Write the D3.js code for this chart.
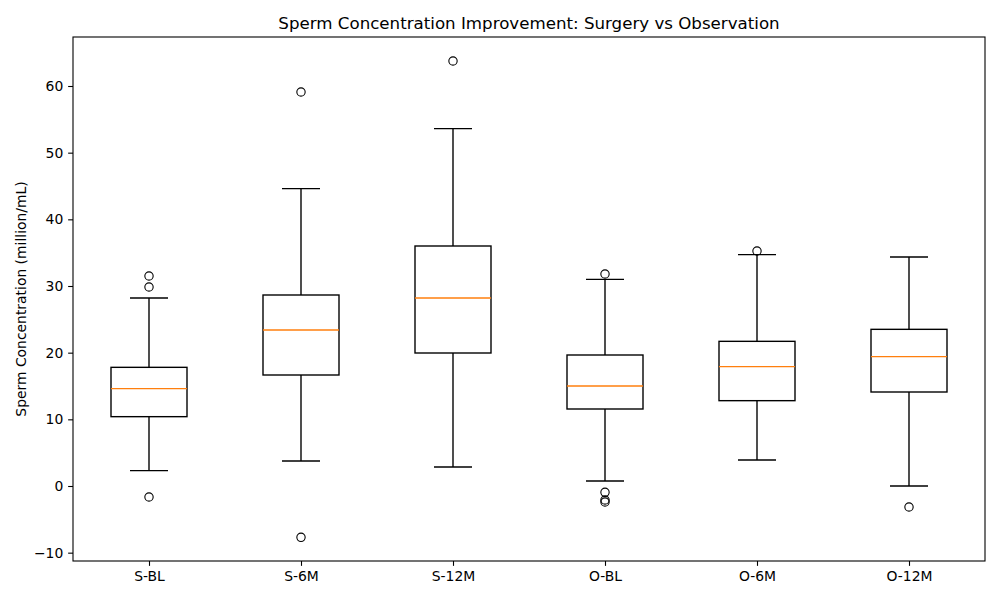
<!DOCTYPE html>
<html><head><meta charset="utf-8">
<script src="https://cdn.jsdelivr.net/npm/d3@7"></script>
<style>body{margin:0;background:#fff;} svg{display:block;font-family:"DejaVu Sans",sans-serif;}</style>
</head><body>
<svg id="chart" width="1000" height="600"></svg>
<script>
const categories = ["S-BL","S-6M","S-12M","O-BL","O-6M","O-12M"];
const whiskerLow = [2.3, 3.75, 2.85, 0.75, 3.9, 0.0];
const q1 = [10.4, 16.65, 19.95, 11.55, 12.8, 14.1];
const median = [14.6, 23.4, 28.2, 15.0, 17.9, 19.4];
const q3 = [17.8, 28.65, 36.0, 19.65, 21.7, 23.5];
const whiskerHigh = [28.2, 44.6, 53.6, 31.0, 34.7, 34.35];
const outliers = [
  [31.5, 29.85, -1.65],
  [59.1, -7.7],
  [63.75],
  [31.8, -0.95, -2.1, -2.4],
  [35.25],
  [-3.15]
];
const yTicks = [-10, 0, 10, 20, 30, 40, 50, 60];

const svg = d3.select("#chart");
const L = 73, R = 985, T = 37, B = 561;
const x = d3.scaleLinear().domain([0.5, 6.5]).range([L, R]);
const y = d3.scaleLinear().domain([-11.25, 67.35]).range([B, T]);
const step = x(2) - x(1);
const boxW = step * 0.5, capW = boxW * 0.5;
const lw = 1.39;

const g = svg.append("g");
categories.forEach((c, i) => {
  const cx = x(i + 1);
  const gg = g.append("g");
  // whiskers
  gg.append("line").attr("x1", cx).attr("x2", cx).attr("y1", y(q3[i])).attr("y2", y(whiskerHigh[i])).attr("stroke", "#000").attr("stroke-width", lw);
  gg.append("line").attr("x1", cx).attr("x2", cx).attr("y1", y(q1[i])).attr("y2", y(whiskerLow[i])).attr("stroke", "#000").attr("stroke-width", lw);
  // caps
  [whiskerHigh[i], whiskerLow[i]].forEach(v => {
    gg.append("line").attr("x1", cx - capW/2).attr("x2", cx + capW/2).attr("y1", y(v)).attr("y2", y(v)).attr("stroke", "#000").attr("stroke-width", lw);
  });
  // box
  gg.append("rect").attr("x", cx - boxW/2).attr("y", y(q3[i])).attr("width", boxW).attr("height", y(q1[i]) - y(q3[i]))
    .attr("fill", "none").attr("stroke", "#000").attr("stroke-width", lw);
  // median
  gg.append("line").attr("x1", cx - boxW/2).attr("x2", cx + boxW/2).attr("y1", y(median[i])).attr("y2", y(median[i])).attr("stroke", "#ff7f0e").attr("stroke-width", lw);
  // outliers
  outliers[i].forEach(v => {
    gg.append("circle").attr("cx", cx).attr("cy", y(v)).attr("r", 4.17).attr("fill", "none").attr("stroke", "#000").attr("stroke-width", 1.1);
  });
});

// axes
const yAxis = d3.axisLeft(y).tickValues(yTicks).tickSize(4.86).tickPadding(4.86).tickFormat(d => d < 0 ? "\u2212" + Math.abs(d) : d);
const ya = svg.append("g").attr("transform", `translate(${L},0)`).call(yAxis);
const xAxis = d3.axisBottom(x).tickValues([1,2,3,4,5,6]).tickSize(4.86).tickPadding(4.86).tickFormat((d) => categories[d - 1]);
const xa = svg.append("g").attr("transform", `translate(0,${B})`).call(xAxis);
[ya, xa].forEach(a => {
  a.select(".domain").remove();
  a.selectAll(".tick line").attr("stroke", "#000").attr("stroke-width", 1.1);
  a.selectAll(".tick text").attr("fill", "#000").style("font-size", "13.9px").style("font-family", "DejaVu Sans");
});

// frame
svg.append("rect").attr("x", L).attr("y", T).attr("width", R - L).attr("height", B - T)
  .attr("fill", "none").attr("stroke", "#000").attr("stroke-width", 1.1);

// title
svg.append("text").attr("x", (L + R) / 2).attr("y", 29).attr("text-anchor", "middle")
  .style("font-size", "16.67px").attr("fill", "#000").text("Sperm Concentration Improvement: Surgery vs Observation");

// y label
svg.append("text").attr("transform", `translate(26,${(T + B) / 2}) rotate(-90)`).attr("text-anchor", "middle")
  .style("font-size", "13.9px").attr("fill", "#000").text("Sperm Concentration (million/mL)");
</script>
</body></html>
